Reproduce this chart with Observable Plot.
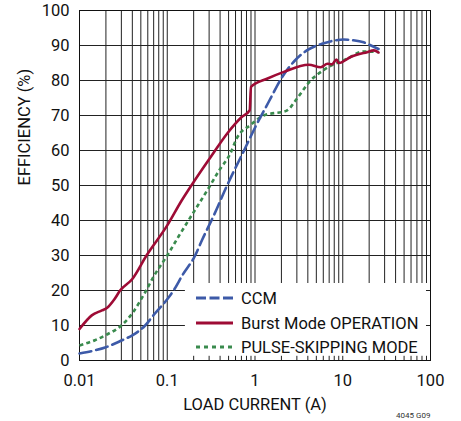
<!DOCTYPE html>
<html><head><meta charset="utf-8">
<script src="https://cdn.jsdelivr.net/npm/d3@7"></script>
<script src="https://cdn.jsdelivr.net/npm/@observablehq/plot@0.6"></script>
<style>html,body{margin:0;padding:0;background:#fff;} svg{display:block}</style>
</head><body><div id="chart"></div>
<script>
// ---- data ----
const ccmCurrent = [0.01,0.015,0.02,0.03,0.04,0.056,0.07,0.1,0.118,0.15,0.208,0.25,0.34,0.48,0.75,1.0,1.44,2.04,2.8,3.9,5.8,8,10.2,13,17.3,21,25.6];
const ccmEff     = [2,   2.9,  3.8, 5.7, 7.2, 10,   13,  17.5,20,  24.5,30,   34.5,41.5,50,  60,  66.5,74,  81,  85.5,88.6,90.5,91.4,91.7,91.5,90.9,90, 89];

const burstCurrent = [0.01,0.0138,0.018,0.0205,0.025,0.029,0.04,0.058,0.1,0.146,0.2,0.31,0.48,0.7,0.87,0.9,1.37,2.1,4.1,5.6,6.7,7.5,8.5,9.0,12.3,18.9,22.6,25.6];
const burstEff     = [9,   12.9,  14.3, 15,    17.5, 20,   23.3,30,   38.6,45.7,51, 58,  64.8,69.5,71.5,78.2,80.5,82.4,84.5,83.8,84.8,84.6,86, 85, 86.7,88.1,88.6,88];

const psCurrent = [0.01,0.015,0.02,0.03,0.04,0.056,0.07,0.1,0.135,0.19,0.3,0.39,0.52,0.63,0.89,1.26,2.3,3.0,4.3,6.0,11.2,17.3,25.6];
const psEff     = [4.3, 5.8,  7.3, 10,  13.5,19.5, 24,  30, 35.5, 41.5,49.5,54.3,59, 63.8,67.3,70,  71.4,74.8,80, 82.9,86.2,88.3,88.1];

const seriesNames = ["CCM", "Burst Mode OPERATION", "PULSE-SKIPPING MODE"];
const xTickLabels = [0.01, 0.1, 1, 10, 100];
const yTicks = [0,10,20,30,40,50,60,70,80,90,100];
const decades = [0.01, 0.1, 1, 10];
const multipliers = [1,2,3,4,5,6,7,8,9];

// ---- derived tables ----
const gridCurrents = decades.flatMap(d => multipliers.map(m => +(d*m).toPrecision(3))).concat([100]);
const toRows = (xs, ys) => xs.map((x, i) => ({current: x, eff: ys[i]}));
const ccm = toRows(ccmCurrent, ccmEff);
const burst = toRows(burstCurrent, burstEff);
const ps = toRows(psCurrent, psEff);
const legendBox = [{x1: 0.161, x2: 100, y1: 0, y2: 22}];

const colors = {ccm: "#3d5aa8", burst: "#9e0b35", ps: "#3a8b4e"};
const font = "Roboto, 'Liberation Sans', Arial, sans-serif";

const plot = Plot.plot({
  width: 461, height: 421,
  marginLeft: 79, marginRight: 31, marginTop: 10, marginBottom: 61,
  style: {fontFamily: font, fontSize: "16.5px", color: "#111", background: "white", overflow: "visible"},
  x: {type: "log", domain: [0.01, 100]},
  y: {domain: [0, 100]},
  marks: [
    Plot.gridX(gridCurrents, {stroke: "#222", strokeOpacity: 1, strokeWidth: 1}),
    Plot.gridY(yTicks, {stroke: "#222", strokeOpacity: 1, strokeWidth: 1}),
    // legend background
    Plot.rect(legendBox, {x1: "x1", x2: "x2", y1: "y1", y2: "y2", fill: "white", stroke: "none"}),
    // small inward ticks on the bottom and right edges
    Plot.ruleX(gridCurrents.filter(d => d > 0.161), {y1: 0, y2: 1.2, stroke: "#222"}),
    Plot.ruleY([10, 20], {x1: 90, x2: 100, stroke: "#222"}),
    Plot.frame({stroke: "#111", strokeWidth: 1}),
    Plot.axisX(xTickLabels, {tickSize: 0, tickPadding: 14, label: null,
      tickFormat: d => d >= 1 ? String(Math.round(d)) : String(d), fontSize: 16.5}),
    Plot.axisY(yTicks, {tickSize: 0, tickPadding: 10, label: null, fontSize: 16.5}),
    Plot.text(["LOAD CURRENT (A)"], {frameAnchor: "bottom", lineAnchor: "bottom", dy: 49, fontSize: 16.5, fill: "#111"}),
    Plot.text(["EFFICIENCY (%)"], {frameAnchor: "left", lineAnchor: "middle", rotate: -90, dx: -55, fontSize: 16.5, fill: "#111"}),
    Plot.text(["4045 G09"], {frameAnchor: "bottom-right", lineAnchor: "bottom", textAnchor: "end", dy: 57.5, fontSize: 8, fill: "#333"}),
    // curves
    Plot.line(ps, {x: "current", y: "eff", stroke: colors.ps, strokeWidth: 2.6, strokeDasharray: "4,3.2", curve: "monotone-x", strokeLinecap: "butt"}),
    Plot.line(ccm, {x: "current", y: "eff", stroke: colors.ccm, strokeWidth: 2.6, strokeDasharray: "12,5", curve: "monotone-x"}),
    Plot.line(burst, {x: "current", y: "eff", stroke: colors.burst, strokeWidth: 2.6, curve: "monotone-x", strokeLinejoin: "round"})
  ]
});

document.getElementById("chart").appendChild(plot);

// ---- legend (inside the plot, lower right) ----
const svg = d3.select(plot);
const legend = svg.append("g").attr("font-family", font).attr("font-size", "16.5px").attr("text-anchor", "start");
const styles = [
  {stroke: colors.ccm, dash: "10,3.5"},
  {stroke: colors.burst, dash: null},
  {stroke: colors.ps, dash: "4,4"}
];
const rowY = [298, 323, 347];
seriesNames.forEach((name, i) => {
  const ln = legend.append("line")
    .attr("x1", 196).attr("x2", 233).attr("y1", rowY[i]).attr("y2", rowY[i])
    .attr("stroke", styles[i].stroke).attr("stroke-width", 2.8);
  if (styles[i].dash) ln.attr("stroke-dasharray", styles[i].dash);
  legend.append("text").attr("x", 241).attr("y", rowY[i] + 6)
    .attr("text-anchor", "start").attr("fill", "#111").text(name);
});
</script>
</body></html>
